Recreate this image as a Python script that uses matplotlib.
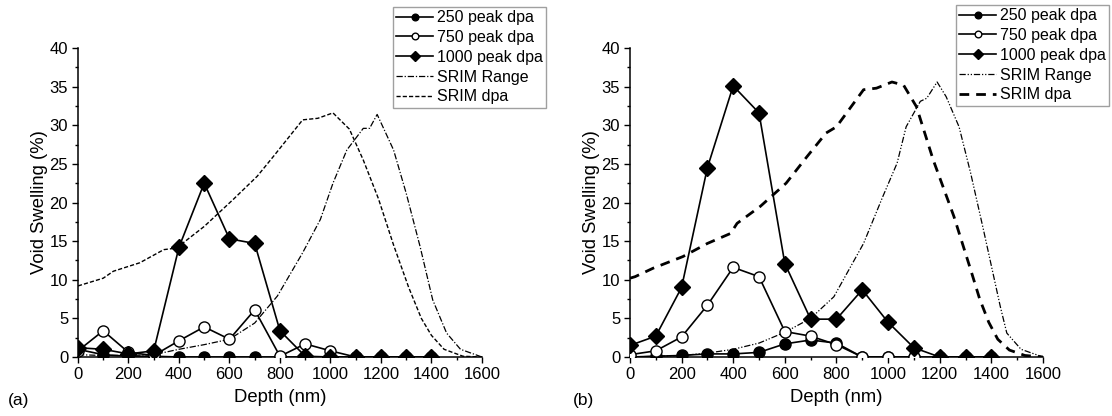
import matplotlib.pyplot as plt
from matplotlib.ticker import MultipleLocator

plt.rcParams['font.family'] = ['Liberation Sans', 'DejaVu Sans']

# Measured depths (nm)
depth = [0, 100, 200, 300, 400, 500, 600, 700, 800, 900, 1000, 1100, 1200, 1300, 1400]

# (a) void swelling (%)
a_250 = [1.0, 0.3, 0.1, 0.1, 0, 0, 0, 0, 0, 0, 0, 0, 0, 0, 0]
a_750 = [0.8, 3.4, 0.6, 0.2, 2.1, 3.9, 2.3, 6.1, 0.1, 1.7, 0.8, 0]
a_1000 = [1.2, 1.0, 0.4, 0.8, 14.2, 22.5, 15.3, 14.7, 3.4, 0.1, 0, 0, 0, 0, 0]

# (b) void swelling (%)
b_250 = [0, 0.1, 0.2, 0.4, 0.4, 0.6, 1.7, 2.2, 1.8, 0, 0, 0, 0, 0, 0]
b_750 = [0.3, 0.8, 2.6, 6.7, 11.6, 10.4, 3.3, 2.7, 1.6, 0, 0, 0]
b_1000 = [1.5, 2.7, 9.0, 24.5, 35.1, 31.6, 12.1, 4.9, 4.9, 8.7, 4.5, 1.2, 0, 0, 0]

# SRIM profiles, (a)
a_dpa_x = [0, 20, 100, 140, 245, 340, 390, 500, 615, 710, 775, 890, 950, 1010,
           1075, 1130, 1190, 1250, 1310, 1360, 1400, 1450, 1525, 1600]
a_dpa_y = [9.2, 9.4, 10.2, 11.1, 12.2, 13.9, 14.1, 16.9, 20.4, 23.4, 26.0, 30.7, 30.9, 31.6,
           29.5, 25.5, 20.5, 14.5, 9.0, 5.0, 2.8, 1.0, 0.1, 0]
a_rng_x = [0, 100, 200, 300, 400, 500, 600, 700, 790, 890, 960, 1010, 1065, 1130,
           1155, 1185, 1250, 1300, 1355, 1405, 1460, 1515, 1600]
a_rng_y = [0.3, 0.2, 0.2, 0.3, 1.0, 1.6, 2.3, 4.4, 7.9, 13.5, 17.8, 22.5, 26.8, 29.6,
           29.6, 31.4, 26.8, 21.2, 14.3, 7.4, 3.1, 1.0, 0]

# SRIM profiles, (b)
b_dpa_x = [0, 20, 90, 205, 300, 390, 415, 505, 605, 685, 760, 800, 905, 955, 1015,
           1060, 1110, 1175, 1255, 1320, 1355, 1390, 1425, 1470, 1530, 1600]
b_dpa_y = [10.2, 10.4, 11.5, 13.0, 14.7, 16.0, 17.3, 19.5, 22.5, 25.9, 29.0, 29.8, 34.6,
           34.8, 35.6, 35.2, 32.4, 25.5, 18.2, 11.3, 7.5, 4.5, 2.3, 0.9, 0.2, 0]
b_rng_x = [0, 100, 200, 300, 400, 500, 600, 700, 790, 905, 980, 1035, 1070, 1125,
           1150, 1190, 1225, 1275, 1320, 1370, 1435, 1460, 1515, 1600]
b_rng_y = [0, 0.1, 0.2, 0.5, 1.0, 1.8, 3.2, 5.0, 7.8, 14.7, 20.8, 25.1, 29.8, 33.1,
           33.5, 35.6, 33.7, 29.8, 23.8, 16.4, 6.5, 3.1, 1.0, 0]

labels = ['250 peak dpa', '750 peak dpa', '1000 peak dpa', 'SRIM Range', 'SRIM dpa']

fig = plt.figure(figsize=(11.12, 4.16), dpi=100)
ax_a = fig.add_axes([0.0701, 0.1418, 0.3633, 0.7428])
ax_b = fig.add_axes([0.5665, 0.1418, 0.3714, 0.7428])


def draw(ax, s250, s750, s1000, dx, dy, rx, ry, dpa_style, dpa_lw, rng_style, legend_box):
    ax.plot(depth[:len(s250)], s250, '-o', color='black', lw=1.2, ms=8, zorder=3)
    ax.plot(depth[:len(s750)], s750, '-o', color='black', mfc='white', lw=1.2, ms=8, zorder=3)
    ax.plot(depth[:len(s1000)], s1000, '-D', color='black', lw=1.2, ms=8, zorder=3)
    ax.plot(rx, ry, color='black', lw=0.9, linestyle=rng_style)
    ax.plot(dx, dy, color='black', lw=dpa_lw, linestyle=dpa_style)

    ax.set_xlim(0, 1600)
    ax.set_ylim(0, 40)
    ax.xaxis.set_major_locator(MultipleLocator(200))
    ax.xaxis.set_minor_locator(MultipleLocator(100))
    ax.yaxis.set_major_locator(MultipleLocator(5))
    ax.yaxis.set_minor_locator(MultipleLocator(2.5))
    ax.tick_params(which='major', length=4, width=1, labelsize=12, direction='out', pad=3)
    ax.tick_params(which='minor', length=2.5, width=1, direction='out')
    for side in ('top', 'right'):
        ax.spines[side].set_visible(False)
    for side in ('left', 'bottom'):
        ax.spines[side].set_linewidth(1.1)
    ax.set_xlabel('Depth (nm)', fontsize=13.3, labelpad=5)
    ax.set_ylabel('Void Swelling (%)', fontsize=13.3, labelpad=1)

    leg = ax.legend(ax.get_lines(), labels, loc='upper left', bbox_to_anchor=legend_box,
                    bbox_transform=fig.transFigure, fontsize=11.5, frameon=True,
                    fancybox=False, edgecolor='#888888', markerscale=0.6,
                    handlelength=2.3, handletextpad=0.25, labelspacing=0.3,
                    borderpad=0.2, borderaxespad=0)
    leg.get_frame().set_linewidth(1.0)


draw(ax_a, a_250, a_750, a_1000, a_dpa_x, a_dpa_y, a_rng_x, a_rng_y,
     (0, (3, 1.5)), 1.0, (0, (5, 1.5, 1, 1.5)), (393 / 1112, 1 - 7 / 416))
draw(ax_b, b_250, b_750, b_1000, b_dpa_x, b_dpa_y, b_rng_x, b_rng_y,
     (0, (3.5, 2.5)), 2.0, (0, (5, 1.5, 1, 1.5, 1, 1.5)), (956 / 1112, 1 - 5 / 416))

fig.text(8 / 1112, 1 - 401 / 416, '(a)', fontsize=12.5, va='center')
fig.text(573 / 1112, 1 - 401 / 416, '(b)', fontsize=12.5, va='center')

fig.savefig('out.png', dpi=100)
